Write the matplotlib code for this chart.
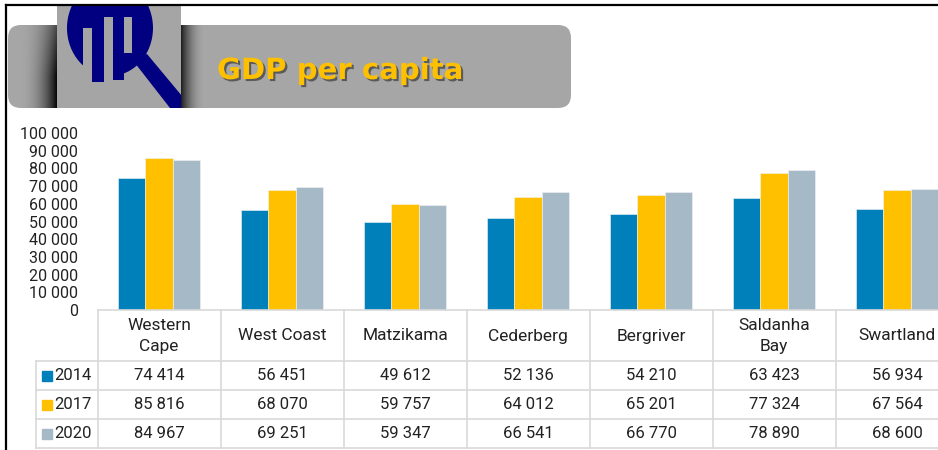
import matplotlib.pyplot as plt
import numpy as np
from matplotlib import patches, transforms
import matplotlib.patheffects as pe

# data
regions = ["Western\nCape", "West Coast", "Matzikama", "Cederberg",
           "Bergriver", "Saldanha\nBay", "Swartland"]
years = ["2014", "2017", "2020"]
gdp_2014 = [74414, 56451, 49612, 52136, 54210, 63423, 56934]
gdp_2017 = [85816, 68070, 59757, 64012, 65201, 77324, 67564]
gdp_2020 = [84967, 69251, 59347, 66541, 66770, 78890, 68600]
series = [gdp_2014, gdp_2017, gdp_2020]
colours = ["#0080BA", "#FFC000", "#A5B9C7"]
yticks = np.arange(0, 100001, 10000)


def fmt(v):
    return f"{v:,}".replace(",", " ")


W, H = 938, 450
plt.rcParams['font.family'] = ['Roboto', 'DejaVu Sans']
fig = plt.figure(figsize=(W / 100, H / 100), dpi=100)

# overlay axes in pixel coords (y down) for header, frame and table
ax0 = fig.add_axes([0, 0, 1, 1])
ax0.set_xlim(0, W)
ax0.set_ylim(H, 0)
ax0.axis('off')


def fbox(x0, y0, x1, y1):
    return [x0 / W, 1 - y1 / H, (x1 - x0) / W, (y1 - y0) / H]


ax = fig.add_axes(fbox(97.5, 133, 958.5, 310))
ax.patch.set_alpha(0)
x = np.arange(len(regions))
bw = 0.222
for i, vals in enumerate(series):
    ax.bar(x + (i - 1) * bw, vals, width=bw, color=colours[i],
           edgecolor='#f4f4f4', linewidth=0.4)
ax.set_xlim(-0.5, len(regions) - 0.5)
ax.set_ylim(0, 100000)
ax.set_yticks(yticks)
ax.set_yticklabels([fmt(v) for v in yticks], fontsize=11.5, color='#222222')
ax.set_xticks([])
ax.tick_params(axis='y', length=0, pad=14)
for s in ['top', 'right', 'left']:
    ax.spines[s].set_visible(False)
ax.spines['bottom'].set_color('#d9d9d9')
ax.spines['bottom'].set_linewidth(1.2)

# ---- data table under the bars
grid = '#d9d9d9'
bt = transforms.blended_transform_factory(ax.transData, ax0.transData)
rows = [310, 361, 390, 419, 448]
for k in range(len(regions) + 1):
    ax0.plot([k - 0.5, k - 0.5], [rows[0], rows[-1]], color=grid, lw=1.2,
             transform=bt, clip_on=False)
for y in rows[1:]:
    ax0.plot([36, W], [y, y], color=grid, lw=1.2)
ax0.plot([36, 36], [rows[1], rows[-1]], color=grid, lw=1.2)

for i, name in enumerate(regions):
    ax0.text(i, (rows[0] + rows[1]) / 2 + 0.5, name, transform=bt, ha='center',
             va='center', fontsize=12.5, color='#222222', linespacing=1.45)
for r, vals in enumerate(series):
    yc = (rows[r + 1] + rows[r + 2]) / 2
    for i, v in enumerate(vals):
        ax0.text(i, yc, fmt(v), transform=bt, ha='center', va='center',
                 fontsize=12, color='#222222', clip_on=False)
    ax0.add_patch(patches.Rectangle((42, yc - 5), 10, 10, color=colours[r]))
    ax0.text(54, yc, years[r], ha='left', va='center', fontsize=12,
             color='#222222')

# ---- header banner
banner = patches.FancyBboxPatch((8, 25), 563, 83,
                                boxstyle="round,pad=0,rounding_size=13",
                                fc='#a6a6a6', ec='none', zorder=1)
ax0.add_patch(banner)

# shadows either side of the logo
h, w = 83, 40
xs = np.linspace(0, 1, w)
ys = np.linspace(0, 1, h)
sh = np.zeros((h, w, 4))
sh[..., 3] = (xs[None, :] ** 2.4) * (0.55 + 0.4 * np.clip(ys[:, None] * 1.6, 0, 1))
im = ax0.imshow(sh, extent=(17, 57, 108, 25), aspect='auto',
                interpolation='bilinear', zorder=1.5)
im.set_clip_path(banner)
sh2 = np.zeros((h, 26, 4))
sh2[..., 3] = ((1 - np.linspace(0, 1, 26))[None, :] ** 2.2) * 0.8 * np.ones((h, 1))
im2 = ax0.imshow(sh2, extent=(181, 207, 108, 25), aspect='auto',
                 interpolation='bilinear', zorder=1.5)
im2.set_clip_path(banner)

# logo
navy = '#000080'
lgray = '#a5a5a5'
logo = patches.Rectangle((57, 5), 124, 103, fc=lgray, ec='none', zorder=2)
ax0.add_patch(logo)
parts = [patches.Ellipse((110, 28), 86, 96, fc=navy, ec='none'),
         patches.Rectangle((83, 28), 9, 82, fc=lgray, ec='none'),
         patches.Rectangle((104, 17), 9, 93, fc=lgray, ec='none'),
         patches.Rectangle((124, 17), 8, 36, fc=lgray, ec='none'),
         patches.Rectangle((92, 17), 12, 65, fc=navy, ec='none'),
         patches.Rectangle((113, 17), 11, 63, fc=navy, ec='none'),
         patches.Polygon([(131, 58), (147, 54), (182, 96), (182, 108),
                          (170, 108)], closed=True, fc=navy, ec='none')]
for p in parts:
    p.set_zorder(3)
    ax0.add_patch(p)
    p.set_clip_path(logo)

ax0.text(217, 79, "GDP per capita", fontsize=21, fontweight='bold',
         family='DejaVu Sans', color='#FFC000', va='baseline', ha='left',
         zorder=4,
         path_effects=[pe.SimplePatchShadow(offset=(1.5, -1.5),
                                            shadow_rgbFace='#3a3a3a',
                                            alpha=0.7),
                       pe.Normal()])

# frame
ax0.plot([6, 6], [H, 5], color='black', lw=1.6, zorder=5)
ax0.plot([6, W], [5, 5], color='black', lw=1.6, zorder=5)
ax0.set_xlim(0, W)
ax0.set_ylim(H, 0)

fig.savefig("out.png", dpi=100)
